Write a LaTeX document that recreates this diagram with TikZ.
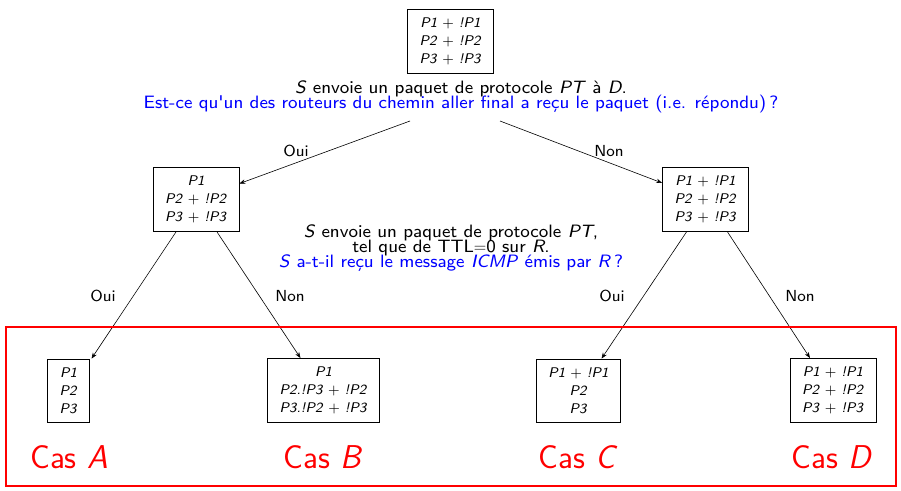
\documentclass[tikz,border=0pt]{standalone}
\usepackage{fontspec}
\usetikzlibrary{arrows.meta}
\newfontfamily\lmsseight{lmsans8-regular.otf}[ItalicFont=lmsans8-oblique.otf]
\newcommand{\qfont}{\lmsseight\fontsize{17.9}{15}\selectfont\lineskiplimit -30pt\relax}
\begin{document}
\begin{tikzpicture}[x=1pt,y=-1pt,
  font=\sffamily,
  box/.style={draw,line width=0.7pt,align=center,inner xsep=12pt,inner ysep=8.5pt,
    font=\lmsseight\fontsize{14}{18}\selectfont},
  question/.style={align=center,font=\qfont},
  lbl/.style={font=\lmsseight\fontsize{16}{18}\selectfont},
  cas/.style={text=red,font=\sffamily\fontsize{33}{36}\selectfont},
  arr/.style={-{Stealth[length=6pt,width=4.5pt]},line width=0.6pt}]
\useasboundingbox (0,0) rectangle (901,490);
% top
\node[box] (top) at (450.5,41) {\textit{P1} + \textit{!P1}\\\textit{P2} + \textit{!P2}\\\textit{P3} + \textit{!P3}};
\node[question] (q1) at (461,97) {\textit{S} envoie un paquet de protocole \textit{PT} à \textit{D}.\\
  \color{blue}Est-ce qu'un des routeurs du chemin aller final a reçu le paquet (i.e. répondu)\,?};
\coordinate (s1) at (410,121);
\coordinate (s2) at (500,121);
% middle
\node[box] (L) at (196,199.5) {\textit{P1}\\\textit{P2} + \textit{!P2}\\\textit{P3} + \textit{!P3}};
\node[box] (R) at (705.5,199.5) {\textit{P1} + \textit{!P1}\\\textit{P2} + \textit{!P2}\\\textit{P3} + \textit{!P3}};
\node[question] (q2) at (451,248) {\textit{S} envoie un paquet de protocole \textit{PT},\\
  tel que de TTL$=$0 sur \textit{R}.\\
  \color{blue}\textit{S} a-t-il reçu le message \textit{ICMP} émis par \textit{R}\,?};
\draw[arr] (s1) -- (L);
\draw[arr] (s2) -- (R);
\node[lbl] (o0) at (296,151) {Oui};
\node[lbl] (n0) at (609,151) {Non};
% bottom
\node[box] (A) at (68.5,390.5) {\textit{P1}\\\textit{P2}\\\textit{P3}};
\node[box] (B) at (323.5,390.5) {\textit{P1}\\\textit{P2.!P3} + \textit{!P2}\\\textit{P3.!P2} + \textit{!P3}};
\node[box] (C) at (578.5,390.5) {\textit{P1} + \textit{!P1}\\\textit{P2}\\\textit{P3}};
\node[box] (D) at (833,390.5) {\textit{P1} + \textit{!P1}\\\textit{P2} + \textit{!P2}\\\textit{P3} + \textit{!P3}};
\draw[arr] ([xshift=-20pt]L.south) -- ([xshift=23pt]A.north);
\draw[arr] ([xshift=21pt]L.south) -- ([xshift=-23pt]B.north);
\draw[arr] ([xshift=-19pt]R.south) -- ([xshift=23pt]C.north);
\draw[arr] ([xshift=22pt]R.south) -- ([xshift=-23pt]D.north);
\node[lbl] (o1) at (103,296) {Oui};
\node[lbl] (n1) at (290,296) {Non};
\node[lbl] (o2) at (612,296) {Oui};
\node[lbl] (n2) at (800,296) {Non};
% red frame
\draw[red,line width=1.2pt] (6,327) rectangle (896,486);
\node[cas] (ca) at (69,457) {Cas \textit{A}};
\node[cas] (cb) at (323,457) {Cas \textit{B}};
\node[cas] (cc) at (578,457) {Cas \textit{C}};
\node[cas] (cd) at (832,457) {Cas \textit{D}};
\end{tikzpicture}
\end{document}
